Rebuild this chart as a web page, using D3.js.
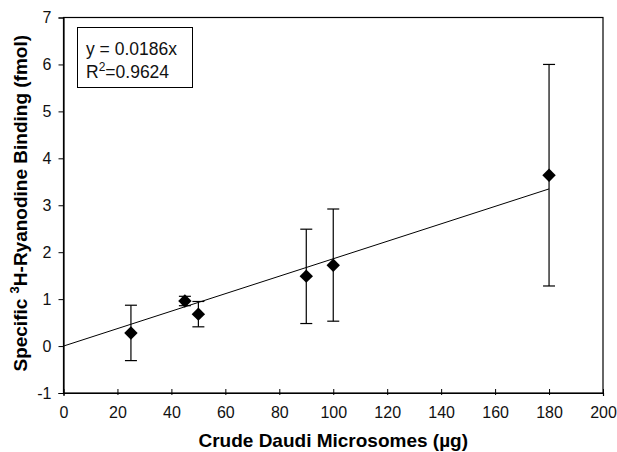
<!DOCTYPE html>
<html>
<head>
<meta charset="utf-8">
<script src="https://cdn.jsdelivr.net/npm/d3@7"></script>
<style>
  html, body { margin: 0; padding: 0; background: #fff; }
  svg { display: block; font-family: "Liberation Sans", Arial, sans-serif; }
</style>
</head>
<body>
<svg id="chart" width="617" height="452"></svg>
<script>
// Microsome amount (µg) and specific binding (fmol) with error bar limits
const microsomes = [25, 45, 50, 90, 100, 180];
const binding    = [0.28, 0.96, 0.68, 1.49, 1.72, 3.64];
const errLow     = [-0.31, 0.86, 0.41, 0.48, 0.53, 1.28];
const errHigh    = [0.87, 1.06, 0.95, 2.49, 2.92, 6.0];

const xTicks = [0, 20, 40, 60, 80, 100, 120, 140, 160, 180, 200];
const yTicks = [-1, 0, 1, 2, 3, 4, 5, 6, 7];

// Linear fit through the origin
const slope = 0.0186;
const fitRange = [0, 180];

const svg = d3.select("#chart");
const plotL = 63.5, plotR = 603, plotT = 17.5, plotB = 393;
const fontFam = "Liberation Sans, Arial, sans-serif";

const x = d3.scaleLinear().domain([0, 200]).range([plotL, plotR]);
const y = d3.scaleLinear().domain([-1, 7]).range([plotB, plotT]);

// Plot frame
svg.append("rect")
  .attr("x", plotL).attr("y", plotT)
  .attr("width", plotR - plotL).attr("height", plotB - plotT)
  .attr("fill", "none").attr("stroke", "#000").attr("stroke-width", 1.2);

// Y axis
const yAxis = svg.append("g")
  .attr("transform", `translate(${plotL},0)`)
  .call(d3.axisLeft(y).tickValues(yTicks).tickSize(5).tickPadding(7).tickFormat(d => String(d)));
yAxis.select(".domain").attr("stroke", "#000").attr("stroke-width", 1.2);
yAxis.selectAll("text").attr("font-size", 16).attr("font-family", fontFam).attr("fill", "#111");

// X axis (ticks crossing the baseline)
const xAxis = svg.append("g")
  .attr("transform", `translate(0,${plotB})`)
  .call(d3.axisBottom(x).tickValues(xTicks).tickSize(3).tickPadding(11).tickFormat(d => String(d)));
xAxis.select(".domain").attr("stroke", "#000").attr("stroke-width", 1.2);
xAxis.selectAll(".tick line").attr("y1", -4).attr("y2", 2);
xAxis.selectAll("text").attr("font-size", 16).attr("font-family", fontFam).attr("fill", "#111");

// Regression line
svg.append("line")
  .attr("x1", x(fitRange[0])).attr("y1", y(slope * fitRange[0]))
  .attr("x2", x(fitRange[1])).attr("y2", y(slope * fitRange[1]))
  .attr("stroke", "#000").attr("stroke-width", 1);

// Error bars
const capHalf = 6;
const eb = svg.append("g").attr("stroke", "#000").attr("stroke-width", 1.2);
microsomes.forEach((m, i) => {
  eb.append("line").attr("x1", x(m)).attr("x2", x(m)).attr("y1", y(errLow[i])).attr("y2", y(errHigh[i]));
  eb.append("line").attr("x1", x(m) - capHalf).attr("x2", x(m) + capHalf).attr("y1", y(errLow[i])).attr("y2", y(errLow[i]));
  eb.append("line").attr("x1", x(m) - capHalf).attr("x2", x(m) + capHalf).attr("y1", y(errHigh[i])).attr("y2", y(errHigh[i]));
});

// Diamond markers
const diamond = d3.symbol().type(d3.symbolDiamond2).size(115);
svg.append("g").selectAll("path")
  .data(microsomes)
  .join("path")
  .attr("d", diamond)
  .attr("transform", (d, i) => `translate(${x(d)},${y(binding[i])})`)
  .attr("fill", "#000");

// Equation box
svg.append("rect")
  .attr("x", 77.5).attr("y", 27.5).attr("width", 115).attr("height", 60)
  .attr("fill", "#fff").attr("stroke", "#000").attr("stroke-width", 1);
svg.append("text").attr("x", 86).attr("y", 55)
  .attr("font-size", 17.5).attr("fill", "#111").text("y = 0.0186x");
const r2 = svg.append("text").attr("x", 86).attr("y", 78).attr("font-size", 17.5).attr("fill", "#111");
r2.append("tspan").text("R");
r2.append("tspan").attr("dy", -7).attr("font-size", 12).text("2");
r2.append("tspan").attr("dy", 7).text("=0.9624");

// Axis titles
svg.append("text")
  .attr("x", (plotL + plotR) / 2).attr("y", 447)
  .attr("text-anchor", "middle").attr("font-size", 19).attr("font-weight", "bold")
  .text("Crude Daudi Microsomes (µg)");

const yt = svg.append("text")
  .attr("transform", `translate(27,${(plotT + plotB) / 2 - 2}) rotate(-90)`)
  .attr("text-anchor", "middle").attr("font-size", 19).attr("font-weight", "bold");
yt.append("tspan").text("Specific ");
yt.append("tspan").attr("dy", -8).attr("font-size", 13).text("3");
yt.append("tspan").attr("dy", 8).text("H-Ryanodine Binding (fmol)");
</script>
</body>
</html>
